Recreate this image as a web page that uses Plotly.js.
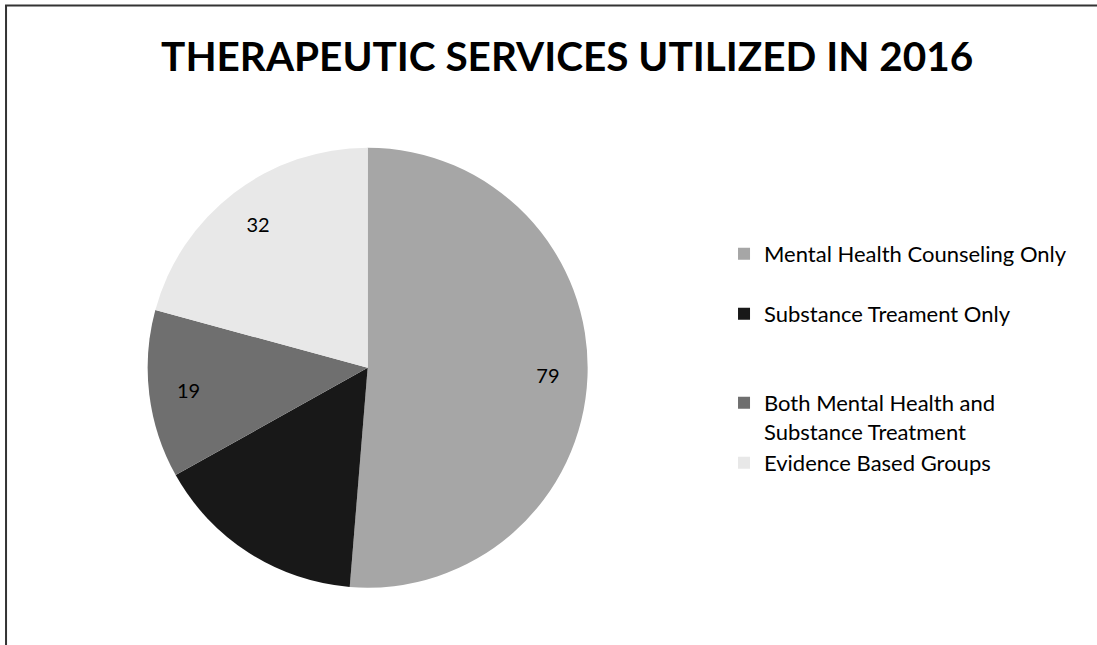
<!DOCTYPE html>
<html>
<head>
<meta charset="utf-8">
<script src="https://cdn.plot.ly/plotly-3.0.1.min.js"></script>
<style>
  html, body { margin: 0; padding: 0; background: #fff; overflow: hidden; }
  #chart { width: 1097px; height: 645px; }
</style>
</head>
<body>
<div id="chart"></div>
<script>
const categories = [
  "Mental Health Counseling Only",
  "Substance Treament Only",
  "Both Mental Health and<br>Substance Treatment",
  "Evidence Based Groups"
];
const values = [79, 24, 19, 32];
const sliceColors = ["#a6a6a6", "#181818", "#6f6f6f", "#e8e8e8"];
// the reference's label on the dark slice is black on black, so it is not readable
const labelColors = ["#000", "#181818", "#000", "#000"];

// extra blank lines after legend entries to mimic the wide legend spacing
const legendPad = [1, 2, 0, 0];
const legendLabels = categories.map((c, i) => c + "<br>\u00a0".repeat(legendPad[i]));

const fontFam = "Lato, 'Open Sans', sans-serif";
const pieDomain = { x: [0.1346, 0.5357], y: [0.0888, 0.771] };

const pie = {
  type: "pie",
  labels: legendLabels,
  values: values,
  sort: false,
  direction: "clockwise",
  rotation: 0,
  marker: { colors: sliceColors, line: { width: 0 } },
  textinfo: "none",
  hoverinfo: "label+value",
  domain: pieDomain
};

// transparent ring on top that carries the data labels further out
const labelRing = {
  type: "pie",
  labels: legendLabels,
  values: values,
  sort: false,
  direction: "clockwise",
  rotation: 0,
  hole: 0.64,
  showlegend: false,
  marker: { colors: values.map(() => "rgba(0,0,0,0)"), line: { width: 0 } },
  textinfo: "value",
  textposition: "inside",
  insidetextorientation: "horizontal",
  textfont: { family: fontFam, size: 20, color: labelColors },
  hoverinfo: "skip",
  domain: pieDomain
};

const layout = {
  width: 1097, height: 645,
  margin: { l: 0, r: 0, t: 0, b: 0 },
  paper_bgcolor: "#fff",
  plot_bgcolor: "rgba(0,0,0,0)",
  title: {
    text: "<b>THERAPEUTIC SERVICES UTILIZED IN 2016</b>",
    font: { family: fontFam, size: 40.5, color: "#000" },
    x: 0.517, xanchor: "center",
    y: 0.912, yanchor: "middle", yref: "container"
  },
  showlegend: true,
  legend: {
    x: 0.66, xanchor: "left",
    y: 0.639, yanchor: "top",
    valign: "top",
    font: { family: fontFam, size: 22, color: "#000" },
    bgcolor: "rgba(0,0,0,0)",
    traceorder: "normal"
  },
  shapes: [{
    type: "path", xref: "paper", yref: "paper",
    path: "M 0.0055,-0.05 L 0.0055,0.9915 L 1.05,0.9915",
    line: { color: "#333", width: 2 }
  }]
};

Plotly.newPlot("chart", [pie, labelRing], layout, { displayModeBar: false, staticPlot: true });
</script>
</body>
</html>
